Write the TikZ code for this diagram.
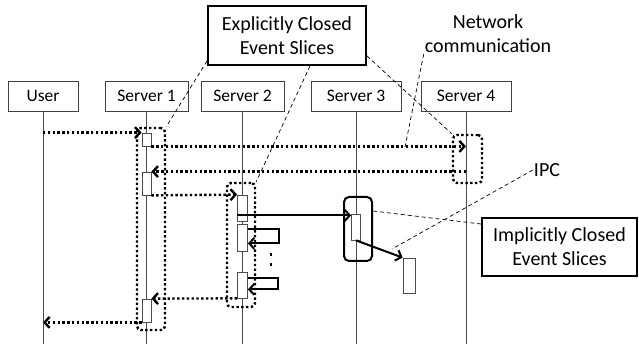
\documentclass[tikz,border=0pt]{standalone}
\usepackage{fontspec}
\setmainfont{Carlito}
\usepackage{tikz}
\usetikzlibrary{arrows.meta,positioning,calc}
\tikzstyle{head} = [rectangle, draw=black!75, line width=0.8pt, minimum height=30pt,
    inner sep=0pt, font=\fontsize{17.5}{20}\selectfont]
\tikzstyle{life} = [draw=black!70, line width=0.8pt]
\tikzstyle{act} = [rectangle, draw=black!70, fill=white, line width=0.8pt,
    minimum width=9pt, inner sep=0pt]
\tikzstyle{msg} = [line width=2.4pt, dash pattern=on 2.4pt off 2.4pt,
    -{Straight Barb[length=5pt,width=11pt]}]
\tikzstyle{arrow} = [line width=2pt, -{Straight Barb[length=5pt,width=11pt]}]
\tikzstyle{grp} = [rectangle, draw, rounded corners=4pt, line width=2.4pt,
    dash pattern=on 2.4pt off 2.4pt, inner sep=0pt]
\tikzstyle{ipcgrp} = [rectangle, draw, rounded corners=5pt, line width=2pt, inner sep=0pt]
\tikzstyle{call} = [rectangle, draw, line width=2pt, align=center,
    font=\fontsize{20}{24}\selectfont]
\tikzstyle{txt} = [align=center, inner sep=1pt, font=\fontsize{20}{24}\selectfont]
\tikzstyle{lead} = [line width=0.7pt, dash pattern=on 4pt off 3pt]
\tikzstyle{dotline} = [line width=2.4pt, dash pattern=on 2.4pt off 7.6pt]

\begin{document}
\begin{tikzpicture}[x=1pt, y=-1pt]
\useasboundingbox (0,0) rectangle (639,344);
\coordinate (bot) at (0,344);
% lanes
\node[head, minimum width=70pt] (user) at (43,96) {User};
\node[head, minimum width=83pt] (srv1) at (146.5,96) {Server 1};
\node[head, minimum width=83pt] (srv2) at (242.5,96) {Server 2};
\node[head, minimum width=90pt] (srv3) at (356,96) {Server 3};
\node[head, minimum width=90pt] (srv4) at (466,96) {Server 4};
\foreach \s in {user,srv1,srv2,srv3,srv4}
  \draw[life] (\s.south) -- (\s.south |- bot);
% activations
\node[act, minimum height=13pt] (a1) at (146.5,139.5) {};
\node[act, minimum height=23pt] (a2) at (146.5,183.5) {};
\node[act, minimum height=23pt] (a3) at (146.5,310.5) {};
\node[act, minimum width=10pt, minimum height=26pt] (b1) at (242.5,208) {};
\node[act, minimum width=10pt, minimum height=27pt] (b2) at (242.5,237.5) {};
\node[act, minimum width=10pt, minimum height=26pt] (b3) at (242.5,285) {};
\node[act, minimum height=26pt] (c1) at (356,227) {};
\node[act, minimum width=12pt, minimum height=35pt] (d1) at (409,275.5) {};
% slices
\node[grp, minimum width=28pt, minimum height=202pt] (g1) at (151,229) {};
\node[grp, minimum width=28pt, minimum height=124pt] (g2) at (241,245) {};
\node[grp, minimum width=29pt, minimum height=48pt] (g4) at (467.5,159) {};
\node[ipcgrp, minimum width=28pt, minimum height=64pt] (g3) at (358,229) {};
% messages
\draw[msg] (user |- a1.north) -- (a1.north west);
\draw[msg] (a1.south east) -- (srv4 |- a1.south);
\draw[msg] (srv4 |- a2.north) -- (a2.north east);
\draw[msg] (a2.south east) -- (b1.north west);
\coordinate (m5) at ([yshift=6pt]b1.south west);
\draw[arrow] (m5) -- (m5 -| c1.west);
\draw[arrow] (c1.south) -- (d1.north west);
\draw[arrow] ([yshift=-5pt]b2.north east) -- ++(31,0) |- ([yshift=8pt]b2.south east);
\draw[arrow] ([yshift=-6pt]b3.north east) -- ++(30,0) |- ([yshift=9pt]b3.south east);
\draw[dotline] ([xshift=23pt,yshift=-2pt]b2.south east) -- ([xshift=23pt]b3.north east);
\draw[msg] (b3.south west) -- (a3.north east);
\draw[msg] (a3.south west) -- (user |- a3.south);
% callouts
\node[call, minimum width=158pt, minimum height=59pt] (expl) at (287,35.5)
  {Explicitly Closed\\Event Slices};
\node[call, minimum width=155pt, minimum height=58pt] (impl) at (559.5,247)
  {Implicitly Closed\\Event Slices};
\node[txt] (net) at (488,34) {Network\\communication};
\node[txt] (ipc) at (547,170) {IPC};
\coordinate (netpt) at (405,147);
\coordinate (ipcpt) at (392,249);
\draw[lead] ([yshift=5pt]expl.south west) -- (g1.north east);
\draw[lead] ([xshift=23pt]expl.south) -- (g2.north east);
\draw[lead] ([yshift=10pt]expl.south east) -- (g4.north west);
\draw[lead] (net.south west) -- (netpt);
\draw[lead] (ipc.west) -- (ipcpt);
\draw[lead] ([yshift=18pt]g3.east) -- ([yshift=23pt]impl.west);
\end{tikzpicture}
\end{document}
